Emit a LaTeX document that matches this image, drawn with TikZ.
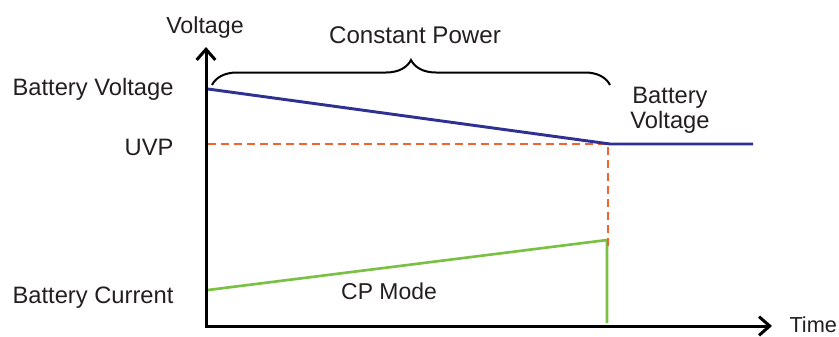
\documentclass[tikz,border=0pt]{standalone}
\usepackage{fontspec}
\setmainfont{Liberation Sans}
\usetikzlibrary{arrows.meta,decorations.pathreplacing}
\definecolor{voltblue}{RGB}{46,49,146}
\definecolor{uvporange}{RGB}{242,101,50}
\definecolor{currgreen}{RGB}{122,193,67}
\definecolor{labelgray}{RGB}{35,31,32}
\tikzset{every picture/.style={line width=0.75pt}}
\tikzset{
  axisline/.style={line width=2.25pt,{Straight Barb[length=8pt,width=14pt,line width=2.25pt]}-{Straight Barb[length=8pt,width=14pt,line width=2.25pt]}},
  voltline/.style={draw=voltblue,line width=2.2pt},
  uvpline/.style={draw=uvporange,line width=2.1pt,dash pattern={on 6pt off 3.75pt}},
  currline/.style={draw=currgreen,line width=2pt},
  cpbrace/.style={line width=1.5pt,decorate,decoration={brace,amplitude=18.75pt}},
  lbl/.style={inner sep=0.75pt,text=labelgray,font=\fontsize{17.8}{18.75}\selectfont},
}

\begin{document}
\begin{tikzpicture}[x=0.75pt,y=0.75pt,yscale=-1,xscale=1]
\useasboundingbox (0,0) rectangle (839,336);

%Points of the axes
\coordinate (origin) at (206,326);
\coordinate (ytip) at (206,47);
\coordinate (xtip) at (772,326);
%Points of the curves
\coordinate (vstart) at (208,89);
\coordinate (vknee) at (610,144);
\coordinate (vend) at (753,144);
\coordinate (ustart) at (208,144);
\coordinate (uknee) at (608,144);
\coordinate (udown) at (608,249);
\coordinate (istart) at (208,290);
\coordinate (iknee) at (607,240);
\coordinate (idown) at (607,323);
%Ends of the brace
\coordinate (bracel) at (212,85);
\coordinate (bracer) at (610,85);

%Battery Current
\draw [currline] (istart) -- (iknee) -- (idown) ;
%UVP level
\draw [uvpline] (ustart) -- (uknee) -- (udown) ;
%Battery Voltage
\draw [voltline] (vstart) -- (vknee) -- (vend) ;
%Axes
\draw [axisline] (ytip) -- (origin) -- (xtip) ;
%Brace
\draw [cpbrace] (bracel) -- (bracer) ;

% Text Node
\node (voltage) [lbl,anchor=base,font=\fontsize{17.4}{18}\selectfont] at (205,33) {Voltage};
% Text Node
\node (cp) [lbl,anchor=base,font=\fontsize{18.1}{19}\selectfont] at (415,43) {Constant Power};
% Text Node
\node (bv) [lbl,anchor=base east] at (175,95) {Battery Voltage};
% Text Node
\node (uvp) [lbl,anchor=base east] at (175,155) {UVP};
% Text Node
\node (bc) [lbl,anchor=base east] at (175,303) {Battery Current};
% Text Node
\node (cpmode) [lbl,anchor=base,font=\fontsize{17.2}{18}\selectfont] at (389,299) {CP Mode};
% Text Node
\node (bvright) [lbl,align=center] at (670,110) {Battery\\Voltage};
% Text Node
\node (time) [lbl,anchor=base west,inner sep=0pt,font=\fontsize{16.3}{18}\selectfont] at (789,332) {Time};

\end{tikzpicture}
\end{document}
